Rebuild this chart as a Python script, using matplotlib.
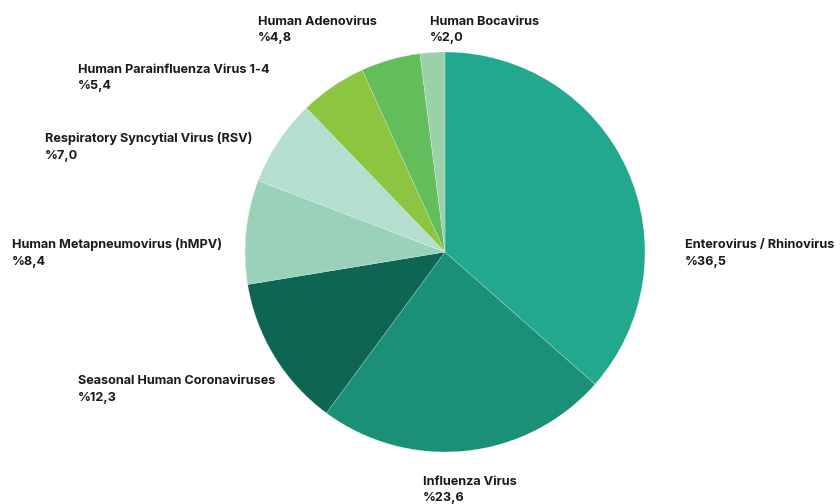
import matplotlib
matplotlib.use("Agg")
import matplotlib.pyplot as plt

categories = ["Enterovirus / Rhinovirus", "Influenza Virus", "Seasonal Human Coronaviruses",
              "Human Metapneumovirus (hMPV)", "Respiratory Syncytial Virus (RSV)",
              "Human Parainfluenza Virus 1-4", "Human Adenovirus", "Human Bocavirus"]
values = [36.5, 23.6, 12.3, 8.4, 7.0, 5.4, 4.8, 2.0]
value_labels = ["%36,5", "%23,6", "%12,3", "%8,4", "%7,0", "%5,4", "%4,8", "%2,0"]
colors = ["#22a88f", "#1a9077", "#0e6553", "#99d2b9", "#b4dfd0", "#8cc540", "#63bd5a", "#9ad1a9"]

# label layout (pixel coords from top-left: left x, baseline of first line)
label_pos = [(685, 248), (423, 485), (78, 384), (12, 248), (45, 142), (78, 73), (258, 25), (430, 25)]

W, H = 840, 504
fig = plt.figure(figsize=(W / 100, H / 100), dpi=100)
ax = fig.add_axes([0, 0, 1, 1])

ax.pie(values, colors=colors, startangle=90, counterclock=False,
       center=(445, 252), radius=200, frame=True,
       wedgeprops=dict(edgecolor="white", linewidth=0.15))
ax.set_xlim(0, W)
ax.set_ylim(0, H)
ax.set_aspect("equal")
ax.axis("off")

for cat, vl, (x, y) in zip(categories, value_labels, label_pos):
    ax.text(x, H - y, cat, ha="left", va="baseline", fontsize=9.15,
            fontweight="bold", family="Inter", color="#1a1a1a")
    ax.text(x, H - y - 16.5, vl, ha="left", va="baseline", fontsize=9.15,
            fontweight="bold", family="Inter", color="#1a1a1a")

fig.savefig("out.png", dpi=100)
